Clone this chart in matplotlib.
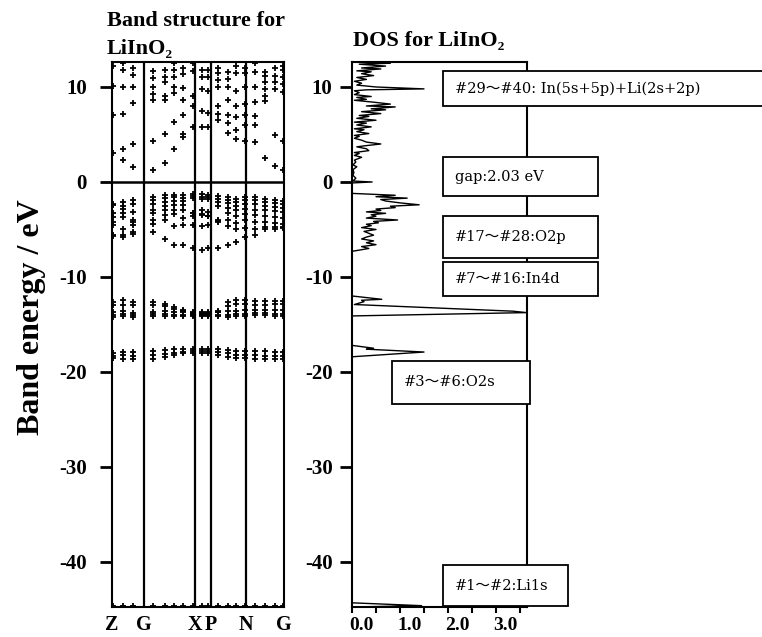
import numpy as np
import matplotlib
matplotlib.use("Agg")
import matplotlib.pyplot as plt
from matplotlib.patches import Rectangle
from matplotlib.transforms import ScaledTranslation

# ---------------- data ----------------
kpts = [1, 11, 21, 41, 53, 62, 71, 81, 90, 96, 106, 116, 124, 133, 143, 153, 163, 171]
sym_pos = [0, 32, 83, 99, 134, 172]
sym_labels = ['Z', 'G', 'X', 'P', 'N', 'G']

nan = np.nan
cb1 = [3.0, 2.3, 1.6, 1.3, 2.0, 3.5, 4.7, 5.8, 5.8, 5.8, 6.5, 5.2, 4.5, 4.3, 4.2, 2.5, 1.7, 1.3]
cb2 = [7.0, 3.5, 4.0, 4.3, 5.0, 6.3, 5.0, 8.0, 7.5, 7.3, 7.2, 6.2, 5.5, 6.0, 6.0, 8.5, 4.9, 4.3]
cb3 = [10.1, 7.2, 8.3, 8.6, 8.6, 9.4, 7.0, 9.0, 9.8, 9.6, 8.0, 7.1, 6.8, 7.0, 6.9, 9.0, 9.8, 9.5]
cb4 = [12.2, 10.0, 10.0, 9.3, 9.0, 10.0, 8.6, 11.7, 11.1, 11.0, 10.0, 8.6, 8.0, 8.2, 8.4, 9.8, 10.5, 10.3]
cb5 = [nan, 11.8, 11.3, 10.0, 10.5, 11.0, 9.9, 12.5, 11.8, 11.8, 10.7, 10.0, 9.6, 10.0, 10.0, 10.5, 11.2, 11.0]
cb6 = [nan, 12.5, 12.0, 10.9, 11.0, 11.8, 11.4, nan, nan, nan, 11.5, 10.8, 11.5, 11.5, 11.6, 11.2, 12.0, 11.8]
cb7 = [nan, nan, nan, 11.7, 11.8, 12.5, 12.0, nan, nan, nan, 12.0, 11.6, 12.2, 12.0, 12.5, 11.6, nan, 12.2]

vb1 = [-2.3, -2.1, -1.9, -1.6, -1.4, -1.4, -1.4, -1.3, -1.3, -1.4, -1.5, -1.6, -1.8, -1.6, -1.6, -1.8, -1.9, -2.0]
vb2 = [-2.4, -2.5, -2.3, -1.9, -1.7, -1.6, -1.7, -1.5, -1.6, -1.6, -1.8, -1.9, -2.1, -1.9, -1.9, -2.1, -2.2, -2.3]
vb3 = [-3.3, -2.8, -3.2, -2.3, -2.1, -2.0, -2.0, -1.7, -1.8, -1.8, -2.1, -2.2, -2.5, -2.3, -2.3, -2.5, -2.6, -2.7]
vb4 = [-3.7, -3.3, -4.0, -2.9, -2.5, -2.4, -2.4, -3.3, -3.0, -3.2, -2.5, -2.7, -3.0, -2.8, -2.9, -3.0, -3.1, -3.2]
vb5 = [-4.2, -3.7, -4.2, -3.3, -3.0, -2.9, -3.0, -3.3, -3.4, -3.6, -4.0, -3.3, -3.6, -3.4, -3.5, -3.6, -3.7, -3.8]
vb6 = [-4.5, -4.9, -4.5, -4.0, -3.5, -3.4, -3.8, -3.6, -3.5, -3.6, -4.1, -4.0, -4.3, -4.0, -4.2, -4.2, -4.3, -4.4]
vb7 = [-5.6, -5.6, -5.3, -4.4, -4.0, -4.6, -4.5, -4.5, -4.6, -4.5, -4.2, -4.6, -5.0, -4.8, -4.9, -4.7, -4.7, -4.7]
vb8 = [-5.7, -5.8, -5.5, -5.3, -6.0, -6.6, -6.6, -7.0, -7.2, -7.0, -7.0, -6.6, -6.3, -5.8, -5.6, -5.0, -4.9, -4.8]

d1 = [-12.6, -12.4, -12.6, -12.6, -12.8, -13.2, -13.5, -13.7, -13.7, -13.7, -13.6, -12.6, -12.4, -12.4, -12.5, -12.5, -12.5, -12.5]
d2 = [-13.0, -13.0, -13.0, -13.0, -13.1, -13.4, -13.6, -13.8, -13.8, -13.8, -13.7, -13.1, -12.8, -12.8, -12.9, -12.9, -12.8, -12.8]
d3 = [-13.7, -13.6, -13.8, -13.7, -13.6, -13.7, -13.7, -13.9, -13.9, -13.9, -13.7, -13.6, -13.6, -13.5, -13.5, -13.5, -13.5, -13.5]
d4 = [-14.0, -13.9, -14.0, -13.9, -13.9, -14.0, -14.0, -14.0, -14.0, -14.0, -14.0, -14.0, -13.9, -13.9, -13.8, -13.8, -13.9, -13.9]
d5 = [-14.2, -14.1, -14.2, -14.1, -14.1, -14.1, -14.1, -14.1, -14.1, -14.1, -14.1, -14.2, -14.1, -14.1, -14.0, -14.0, -14.1, -14.1]

s1 = [-18.0, -17.9, -17.9, -17.8, -17.7, -17.6, -17.6, -17.6, -17.6, -17.6, -17.6, -17.7, -17.8, -17.8, -17.8, -17.8, -17.9, -17.9]
s2 = [-18.3, -18.2, -18.3, -18.2, -18.1, -18.0, -17.9, -17.8, -17.8, -17.8, -17.9, -18.0, -18.2, -18.2, -18.2, -18.3, -18.3, -18.3]
s3 = [-18.5, -18.6, -18.6, -18.6, -18.4, -18.2, -18.0, -18.0, -18.0, -18.0, -18.2, -18.4, -18.5, -18.5, -18.6, -18.6, -18.6, -18.6]

li1s = [-44.6, -44.6, -44.6, -44.6, -44.6, -44.6, -44.6, -44.6, -44.6, -44.6, -44.6, -44.6, -44.6, -44.6, -44.6, -44.6, -44.6, -44.6]

bands = [cb1, cb2, cb3, cb4, cb5, cb6, cb7,
         vb1, vb2, vb3, vb4, vb5, vb6, vb7, vb8,
         d1, d2, d3, d4, d5, s1, s2, s3, li1s]

dos_energy = [12.63, 12.5, 12.4, 12.2, 12.0, 11.9, 11.7, 11.6, 11.4, 11.2, 11.0, 10.8, 10.6,
              10.4, 10.2, 10.0, 9.8, 9.7, 9.6, 9.4, 9.2, 9.0, 8.9, 8.7, 8.6, 8.4, 8.2, 8.0,
              7.9, 7.7, 7.6, 7.4, 7.2, 7.0, 6.9, 6.7, 6.5, 6.3, 6.2, 6.0, 5.8, 5.6, 5.5, 5.3,
              5.1, 4.9, 4.8, 4.6, 4.4, 4.2, 4.0, 3.8, 3.7, 3.5, 3.3, 3.1, 3.0, 2.8, 2.6, 2.3,
              2.1, 1.8, 1.6, 1.3, 1.0, 0.7, 0.4, 0.1, 0.0, -0.1, -1.2, -1.4, -1.55, -1.7,
              -1.85, -2.0, -2.2, -2.4, -2.55, -2.7, -2.85, -3.0, -3.15, -3.3, -3.45, -3.6,
              -3.8, -4.0, -4.15, -4.3, -4.45, -4.6, -4.8, -5.0, -5.2, -5.4, -5.6, -5.8, -6.0,
              -6.2, -6.4, -6.6, -6.8, -7.0, -7.3,
              -12.0, -12.35, -12.45, -12.6, -12.9, -13.6, -13.75, -14.1, -17.2, -17.5, -17.6,
              -17.9, -18.4, -18.6, -44.3, -44.6, -44.74]
dos_value = [0.0, 0.8, 0.15, 0.7, 0.2, 0.6, 0.1, 0.4, 0.2, 0.45, 0.1, 0.3, 0.05,
             0.2, 0.1, 0.5, 1.5, 0.3, 0.05, 0.15, 0.05, 0.4, 0.1, 0.3, 0.05, 0.45, 0.8, 0.3,
             0.9, 0.4, 0.7, 0.2, 0.6, 0.15, 0.35, 0.1, 0.5, 0.05, 0.3, 0.1, 0.4, 0.05, 0.25,
             0.1, 0.35, 0.05, 0.15, 0.05, 0.2, 0.3, 0.6, 0.25, 0.1, 0.3, 0.35, 0.05, 0.15,
             0.05, 0.2, 0.05, 0.08, 0.02, 0.1, 0.02, 0.04, 0.02, 0.08, 0.02, 0.42, 0.0, 0.0,
             0.9, 0.5, 1.15, 0.6, 0.7, 1.0, 1.4, 0.8, 0.9, 0.5, 0.6, 0.3, 0.7, 0.4, 0.5, 0.3,
             0.95, 0.45, 0.55, 0.3, 0.4, 0.2, 0.5, 0.25, 0.35, 0.45, 0.3, 0.2, 0.45, 0.3, 0.5,
             0.2, 0.35, 0.0,
             0.0, 0.62, 0.2, 0.25, 0.05, 3.35, 3.64, 0.0, 0.0, 0.45, 0.3, 1.5, 0.0,
             0.0, 0.0, 1.45, 0.0]

y_ticks = [10, 0, -10, -20, -30, -40]
y_ticklabels = ['10', '0', '-10', '-20', '-30', '-40']
dos_ticks = [0, 1, 2, 3]
dos_ticklabels = ['0.0', '1.0', '2.0', '3.0']

boxes = [  # (text, x0, y0, x1, y1) in pixels
    ('#29～#40: In(5s+5p)+Li(2s+2p)', 443, 71, 775, 106),
    ('gap:2.03 eV', 443, 157, 598, 196),
    ('#17～#28:O2p', 443, 216, 598, 258),
    ('#7～#16:In4d', 443, 262, 598, 296),
    ('#3～#6:O2s', 392, 361, 530, 404),
    ('#1～#2:Li1s', 443, 565, 568, 606),
]

# ---------------- figure ----------------
W, H = 762, 637
fig = plt.figure(figsize=(W / 100, H / 100), dpi=100)
serif = ['Liberation Serif', 'DejaVu Serif']
boxfont = ['DejaVu Serif', 'Noto Sans CJK JP', 'DejaVu Sans']
ylo, yhi = -44.74, 12.63


def fr(x0, y0, x1, y1):
    return [x0 / W, 1 - y1 / H, (x1 - x0) / W, (y1 - y0) / H]


ax1 = fig.add_axes(fr(112, 62, 284, 607))
ax2 = fig.add_axes(fr(352, 62, 527, 607))

# band structure
for b in bands:
    ax1.plot(kpts, b, linestyle='none', marker='+', ms=5, mew=1.3, color='black')
for x in sym_pos[1:-1]:
    ax1.axvline(x, color='black', lw=1.6)
ax1.axhline(0, color='black', lw=1.8)
ax1.set_xlim(sym_pos[0], sym_pos[-1])
ax1.set_ylim(ylo, yhi)
ax1.set_xticks(sym_pos)
ax1.set_xticklabels(sym_labels, family=serif, fontweight='bold', fontsize=14.5)
ax1.tick_params(axis='x', length=0, pad=6)
ax1.set_yticks(y_ticks)
ax1.set_yticklabels(y_ticklabels, family=serif, fontweight='bold', fontsize=15)
ax1.tick_params(axis='y', length=9, width=2, pad=9, direction='out')
for s in ax1.spines.values():
    s.set_linewidth(1.5)

# DOS
ax2.plot(dos_value, dos_energy, color='black', lw=1.0)
ax2.set_xlim(0, 3.646)
ax2.set_ylim(ylo, yhi)
ax2.set_yticks(y_ticks)
ax2.set_yticklabels(y_ticklabels, family=serif, fontweight='bold', fontsize=15)
ax2.tick_params(axis='y', length=9, width=2, pad=5, direction='out')
ax2.set_xticks(dos_ticks)
ax2.set_xticks([0.5, 1.5, 2.5, 3.5], minor=True)
ax2.set_xticklabels(dos_ticklabels, family=serif, fontweight='bold', fontsize=14)
ax2.tick_params(axis='x', which='both', length=4, width=1.5, pad=3, direction='out')
off = ScaledTranslation(7 / 72, 0, fig.dpi_scale_trans)
for lab in ax2.get_xticklabels():
    lab.set_transform(lab.get_transform() + off)
for s in ax2.spines.values():
    s.set_linewidth(1.5)

# titles and axis label
fig.text(107 / W, 1 - 21 / H, 'Band structure for', family=serif, fontweight='bold',
         fontsize=16, ha='left', va='center')
fig.text(107 / W, 1 - 49 / H, 'LiInO₂', family=serif, fontweight='bold',
         fontsize=16, ha='left', va='center')
fig.text(353 / W, 1 - 41 / H, 'DOS for LiInO₂', family=serif, fontweight='bold',
         fontsize=16, ha='left', va='center')
fig.text(32 / W, 1 - 317 / H, 'Band energy / eV', family=serif, fontweight='bold',
         fontsize=23, rotation=90, ha='center', va='center')

# annotation boxes
for txt, x0, y0, x1, y1 in boxes:
    r = Rectangle((x0 / W, 1 - y1 / H), (x1 - x0) / W, (y1 - y0) / H,
                  transform=fig.transFigure, facecolor='white', edgecolor='black',
                  lw=1.3, zorder=10)
    fig.add_artist(r)
    fig.text((x0 + 12) / W, 1 - (y0 + y1) / 2 / H, txt, family=boxfont, fontsize=10.5,
             ha='left', va='center', zorder=11)

fig.savefig('out.png', dpi=100)
